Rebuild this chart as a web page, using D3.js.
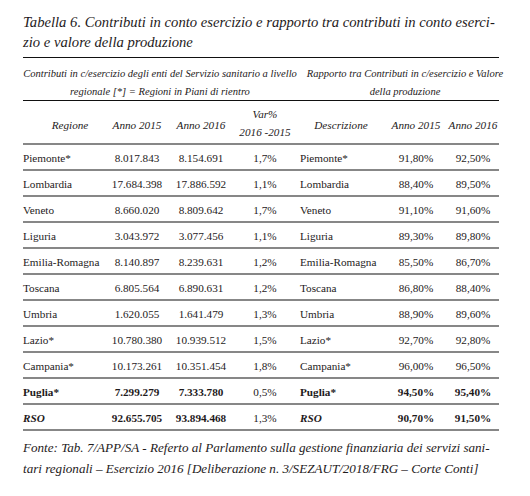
<!DOCTYPE html>
<html><head><meta charset="utf-8">
<script src="https://cdn.jsdelivr.net/npm/d3@7"></script>
<style>
html,body{margin:0;padding:0;background:#fff;}
svg{display:block;font-family:"Liberation Serif","Times New Roman",serif;}
</style></head>
<body>
<svg id="c" width="530" height="496"></svg>
<script>
// ---- data ----
const titleLines = ["Tabella 6. Contributi in conto esercizio e rapporto tra contributi in conto eserci-", "zio e valore della produzione"];
const leftGroupLines = ["Contributi in c/esercizio degli enti del Servizio sanitario a livello", "regionale [*] = Regioni in Piani di rientro"];
const rightGroupLines = ["Rapporto tra Contributi in c/esercizio e Valore", "della produzione"];
const headers = ["Regione", "Anno 2015", "Anno 2016", ["Var%", "2016 -2015"], "Descrizione", "Anno 2015", "Anno 2016"];
const regions = ["Piemonte*","Lombardia","Veneto","Liguria","Emilia-Romagna","Toscana","Umbria","Lazio*","Campania*","Puglia*","RSO"];
const contrib2015 = [8017843,17684398,8660020,3043972,8140897,6805564,1620055,10780380,10173261,7299279,92655705];
const contrib2016 = [8154691,17886592,8809642,3077456,8239631,6890631,1641479,10939512,10351454,7333780,93894468];
const varPct = [1.7,1.1,1.7,1.1,1.2,1.2,1.3,1.5,1.8,0.5,1.3];
const ratio2015 = [91.8,88.4,91.1,89.3,85.5,86.8,88.9,92.7,96.0,94.5,90.7];
const ratio2016 = [92.5,89.5,91.6,89.8,86.7,88.4,89.6,92.8,96.5,95.4,91.5];
const footLines = ["Fonte: Tab. 7/APP/SA - Referto al Parlamento sulla gestione finanziaria dei servizi sani-", "tari regionali \u2013 Esercizio 2016 [Deliberazione n. 3/SEZAUT/2018/FRG \u2013 Corte Conti]"];

// ---- layout ----
const svg = d3.select("#c");
const ink = "#1e1a1b";
const L = 23, R = 499;
const FS = 11.2;
const it = d3.formatLocale({decimal: ",", thousands: ".", grouping: [3], currency: ["", "€"]});
const fInt = it.format(",d");
const fVar = v => it.format(".1f")(v) + "%";
const fRat = v => it.format(".2f")(v) + "%";

function fit(sel, w) {
  const n = sel.node();
  const cur = parseFloat(sel.attr("font-size"));
  const len = n.getComputedTextLength();
  sel.attr("font-size", (cur * w / len).toFixed(2));
}

// title
const tt = svg.selectAll("text.title").data(titleLines).join("text")
  .attr("class", "title").attr("x", L).attr("y", (d, i) => 27 + i * 20)
  .attr("font-style", "italic").attr("font-size", 16).attr("fill", ink).text(d => d);
const t0 = tt.filter((d, i) => i === 0); fit(t0, 472);
tt.attr("font-size", t0.attr("font-size"));

function rule(y) {
  svg.append("line").attr("x1", L).attr("x2", R).attr("y1", y).attr("y2", y)
    .attr("stroke", "#111").attr("stroke-width", 1.1);
}
rule(57.5); rule(100.5); rule(144);

// group headers
const g1 = svg.selectAll("text.g1").data(leftGroupLines).join("text").attr("class", "g1")
  .attr("x", 160).attr("y", (d, i) => 77 + i * 18).attr("text-anchor", "middle")
  .attr("font-style", "italic").attr("font-size", 12).attr("fill", ink).text(d => d);
const g10 = g1.filter((d, i) => i === 0); fit(g10, 274); g1.attr("font-size", g10.attr("font-size"));
const g2 = svg.selectAll("text.g2").data(rightGroupLines).join("text").attr("class", "g2")
  .attr("x", 405).attr("y", (d, i) => 77 + i * 18).attr("text-anchor", "middle")
  .attr("font-style", "italic").attr("font-size", 12).attr("fill", ink).text(d => d);
g2.attr("font-size", g1.attr("font-size"));

// columns
const colCenter = [70, 137, 201, 265, 341, 416, 473];
const colX = d3.scaleOrdinal().domain(d3.range(7)).range(colCenter);
const hdr = svg.append("g").attr("font-style", "italic").attr("font-size", FS).attr("fill", ink).attr("text-anchor", "middle");
headers.forEach((h, i) => {
  const lines = Array.isArray(h) ? h : [h];
  const y0 = lines.length === 1 ? 129 : 118;
  lines.forEach((s, j) => hdr.append("text").attr("x", colX(i)).attr("y", y0 + j * 18).text(s));
});

// rows
const y = d3.scaleBand().domain(regions).range([144, 144 + 26 * regions.length]);
const rows = svg.selectAll("g.row").data(regions).join("g").attr("class", "row")
  .attr("transform", d => `translate(0,${y(d)})`)
  .attr("font-size", FS).attr("fill", ink);
rows.each(function(name, i) {
  const g = d3.select(this);
  const bold = name === "Puglia*" || name === "RSO";
  const ital = name === "RSO";
  const by = 17.5;
  const txt = (x, s, anchor, b, itl) => g.append("text").attr("x", x).attr("y", by)
    .attr("text-anchor", anchor).attr("font-weight", b ? "bold" : null)
    .attr("font-style", itl ? "italic" : null).text(s);
  txt(L, name, "start", bold, ital);
  txt(colX(1), fInt(contrib2015[i]), "middle", bold, false);
  txt(colX(2), fInt(contrib2016[i]), "middle", bold, false);
  txt(colX(3), fVar(varPct[i]), "middle", false, false);
  txt(300, name, "start", bold, ital);
  txt(colX(5), fRat(ratio2015[i]), "middle", bold, false);
  txt(colX(6), fRat(ratio2016[i]), "middle", bold, false);
  g.append("line").attr("x1", L).attr("x2", R).attr("y1", y.bandwidth()).attr("y2", y.bandwidth())
    .attr("stroke", "#111").attr("stroke-width", 1.1);
});

// footnote
const ft = svg.selectAll("text.foot").data(footLines).join("text").attr("class", "foot")
  .attr("x", L).attr("y", (d, i) => 452 + i * 21)
  .attr("font-style", "italic").attr("font-size", 14).attr("fill", ink).text(d => d);
const f0 = ft.filter((d, i) => i === 0); fit(f0, 467); ft.attr("font-size", f0.attr("font-size"));
</script>
</body></html>
